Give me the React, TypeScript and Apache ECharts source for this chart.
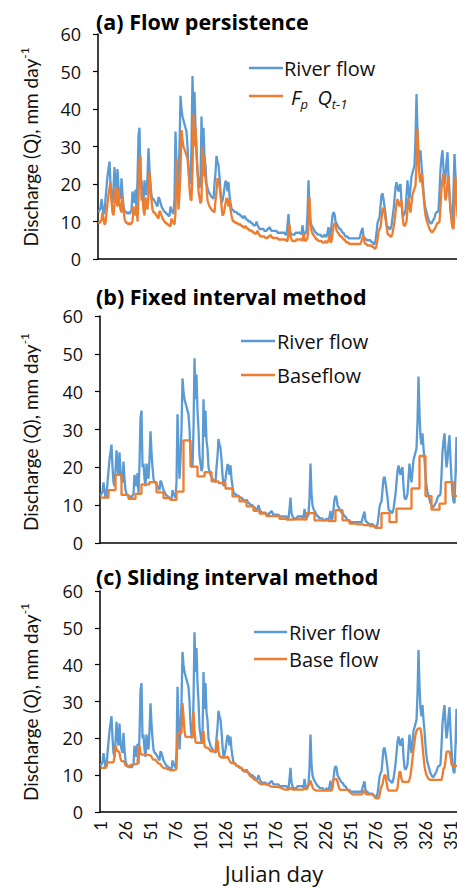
import React, { useEffect, useRef } from "react";
import * as echarts from "echarts";

// Julian day categories (1..365)
const dayLabels: string[] = Array.from({ length: 365 }, (_, i) => String(i + 1));

// Daily river flow (mm/day)
const riverFlow: number[] = [
  12.5, 13, 13.5, 16, 14, 12, 12.5, 16, 19, 22,
  24, 26, 20, 16, 15, 19, 24.5, 20, 18, 24,
  19, 17, 16, 21.5, 17, 14, 13, 12.5, 12.5, 12,
  12.5, 12, 12.5, 13, 18, 16, 15, 18.5, 13, 21,
  33, 35, 20, 21, 17, 15, 21, 18, 17, 22,
  29.5, 24, 20, 17, 16, 16, 15.5, 15, 14.5, 14,
  16.5, 16, 15, 14, 13.5, 13, 12.5, 12.5, 12, 12,
  11.5, 11.5, 14, 13, 12.5, 12, 16, 34, 25, 17,
  22, 30, 43.5, 40, 38, 37, 36, 35, 34, 30,
  24, 20.5, 20, 30, 48.8, 38, 44.5, 35, 30, 23,
  21, 19, 20, 38, 28, 35, 27, 25, 20, 19,
  18, 17.5, 17, 16.5, 16.5, 16, 20, 23, 27.5, 26,
  25, 22, 18, 15, 15.5, 17, 19, 20.8, 20.5, 18,
  20.5, 17, 15, 13.5, 13, 13, 12.5, 12.5, 12.5, 12,
  12, 12, 11.5, 11.5, 11, 11, 11.5, 11, 10.5, 10.5,
  10, 10, 10, 9.5, 9.5, 9, 9, 9, 10, 9,
  8.5, 8, 8, 8, 8, 8, 7.5, 7.5, 7.5, 8,
  8, 8.5, 8, 7.5, 7.5, 7.5, 7.5, 7.5, 7.5, 7,
  7, 7, 7, 7, 7, 7, 7, 6.5, 6.5, 9,
  12, 8, 7, 6.5, 6.5, 6.5, 6.5, 7, 7, 7,
  7, 7, 7, 6.5, 9, 7, 6.5, 7, 7.5, 12,
  21, 13, 10, 9, 8.5, 8, 7.5, 7, 7, 6.5,
  6.5, 6.5, 6.5, 6, 6, 6, 6.5, 6, 6, 7,
  8.5, 6, 6.5, 9, 11.5, 12.5, 12, 10, 9.5, 9,
  8.5, 8, 8, 7.5, 7, 7, 6.5, 6, 6, 6,
  5.5, 5.5, 5.5, 5.5, 5.5, 5.5, 5.5, 5.5, 5.5, 5.5,
  5.5, 5.5, 6.5, 7.5, 8.3, 6, 5.5, 5.5, 5, 5,
  5, 5, 5, 4.5, 4.5, 4, 4, 5, 7, 9.5,
  10.5, 11, 14, 17, 17.5, 16, 14, 12, 9, 8.5,
  8.5, 8, 8, 9, 11, 13, 16, 19, 20.5, 19,
  18, 19.5, 20, 15, 12, 11.5, 12, 13, 17, 21,
  18, 16, 19, 22, 23, 24, 25, 32, 44, 34,
  28, 26, 29, 25, 22, 18, 15, 13.5, 12.5, 11.5,
  10.5, 10, 9.5, 9.5, 10, 10.5, 11, 12, 12.5, 12.5,
  13, 18, 24, 27, 29, 24, 20, 22, 26, 28.5,
  22, 17, 13, 11, 10.5, 18, 28, 22, 15, 13,
  12.5, 12, 12, 11.5, 11,
];

// Panel (a): Fp * Q(t-1)
const persistenceFlow: number[] = [
  10, 9.6, 10, 10.4, 12.4, 10.8, 9.2, 9.6, 12.4, 14.8,
  17.2, 18.8, 20.4, 15.6, 12.4, 11.6, 14.8, 19.2, 15.6, 14,
  18.8, 14.8, 13.2, 12.4, 16.8, 13.2, 10.8, 10, 9.6, 9.6,
  9.2, 9.6, 9.2, 9.6, 10, 14, 12.4, 11.6, 14.4, 10,
  16.4, 26, 27.6, 15.6, 16.4, 13.2, 11.6, 16.4, 14, 13.2,
  17.2, 23.2, 18.8, 15.6, 13.2, 12.4, 12.4, 12, 11.6, 11.2,
  10.8, 12.8, 12.4, 11.6, 10.8, 10.4, 10, 9.6, 9.6, 9.2,
  9.2, 8.8, 8.8, 10.8, 10, 9.6, 9.2, 12.4, 26.8, 19.6,
  13.2, 17.2, 23.6, 34.4, 31.6, 30, 29.2, 28.4, 27.6, 26.8,
  23.6, 18.8, 16, 15.6, 23.6, 38.6, 30, 35.2, 27.6, 23.6,
  18, 16.4, 14.8, 15.6, 30, 22, 27.6, 21.2, 19.6, 15.6,
  14.8, 14, 13.6, 13.2, 12.8, 12.8, 12.4, 15.6, 18, 21.6,
  20.4, 19.6, 17.2, 14, 11.6, 12, 13.2, 14.8, 16.2, 16,
  14, 16, 13.2, 11.6, 10.4, 10, 10, 9.6, 9.6, 9.6,
  9.2, 9.2, 9.2, 8.8, 8.8, 8.4, 8.4, 8.8, 8.4, 8,
  8, 7.6, 7.6, 7.6, 7.2, 7.2, 6.8, 6.8, 6.8, 7.6,
  6.8, 6.4, 6, 6, 6, 6, 6, 5.6, 5.6, 5.6,
  6, 6, 6.4, 6, 5.6, 5.6, 5.6, 5.6, 5.6, 5.6,
  5.2, 5.2, 5.2, 5.2, 5.2, 5.2, 5.2, 5.2, 4.8, 4.8,
  6.8, 9.2, 6, 5.2, 4.8, 4.8, 4.8, 4.8, 5.2, 5.2,
  5.2, 5.2, 5.2, 5.2, 4.8, 6.8, 5.2, 4.8, 5.2, 5.6,
  9.2, 16.4, 10, 7.6, 6.8, 6.4, 6, 5.6, 5.2, 5.2,
  4.8, 4.8, 4.8, 4.8, 4.4, 4.4, 4.4, 4.8, 4.4, 4.4,
  5.2, 6.4, 4.4, 4.8, 6.8, 8.8, 9.6, 9.2, 7.6, 7.2,
  6.8, 6.4, 6, 6, 5.6, 5.2, 5.2, 4.8, 4.4, 4.4,
  4.4, 4, 4, 4, 4, 4, 4, 4, 4, 4,
  4, 4, 4, 4.8, 5.6, 6.2, 4.4, 4, 4, 3.6,
  3.6, 3.6, 3.6, 3.6, 3.2, 3.2, 2.8, 2.8, 3.6, 5.2,
  7.2, 8, 8.4, 10.8, 13.2, 13.6, 12.4, 10.8, 9.2, 6.8,
  6.4, 6.4, 6, 6, 6.8, 8.4, 10, 12.4, 14.8, 16,
  14.8, 14, 15.2, 15.6, 11.6, 9.2, 8.8, 9.2, 10, 13.2,
  16.4, 14, 12.4, 14.8, 17.2, 18, 18.8, 19.6, 25.2, 34.8,
  26.8, 22, 20.4, 22.8, 19.6, 17.2, 14, 11.6, 10.4, 9.6,
  8.8, 8, 7.6, 7.2, 7.2, 7.6, 8, 8.4, 9.2, 9.6,
  9.6, 10, 14, 18.8, 21.2, 22.8, 18.8, 15.6, 17.2, 20.4,
  22.4, 17.2, 13.2, 10, 8.4, 8, 14, 22, 17.2, 11.6,
  10, 9.6, 9.2, 9.2, 8.8,
];

// Panel (b): fixed-interval baseflow, one value per interval (start day of each step)
const fixedStepStartDays: number[] = [
  1, 9, 16, 22, 29, 36, 42, 50, 57, 64, 71, 77, 84, 91, 98, 105, 112, 119, 126, 133,
  140, 147, 154, 160, 167, 174, 180, 187, 194, 200, 207, 215, 222, 229, 236, 243, 250, 257, 264, 270,
  276, 282, 290, 297, 312, 320, 326, 332, 340, 346, 354, 365,
];
const fixedStepValues: number[] = [
  12, 14, 18, 12.7, 11.7, 13, 15.5, 16.1, 13.4, 11.9, 11.4, 13.6, 27.1, 20.2, 17.6, 18.7, 16.3, 15.8, 14.4, 12.3,
  11, 9.7, 8.5, 7.8, 7.1, 7.2, 6.4, 6.2, 6.3, 6.2, 7.9, 6.0, 6.0, 5.8, 8.7, 6.0, 5.1, 4.9, 4.7, 4.5,
  4.0, 7.9, 5.5, 9.1, 14.4, 23, 12.4, 8.8, 10.4, 16.1, 12.4, 12.4,
];

// Panel (c): sliding-interval baseflow
const slidingBaseflow: number[] = [
  12, 12, 12, 12, 12, 12, 12.4, 13.5, 13.5, 13.5,
  13.5, 13.5, 13.5, 13.5, 15, 18, 17, 16.5, 16.5, 16,
  14.5, 13.8, 13.8, 13.8, 13.5, 12.6, 12.6, 12.3, 12.3, 12.3,
  12.8, 12.8, 12.8, 13, 13, 13, 13, 13.2, 17.5, 18,
  16, 15.6, 15.6, 15.6, 15.6, 15.6, 15.5, 15.5, 15.5, 15.4,
  15.4, 15, 14.5, 14.2, 14.2, 14.2, 13.8, 13.5, 13.2, 13.1,
  13, 12.5, 12.2, 12, 11.9, 11.9, 11.8, 11.6, 11.6, 11.5,
  11.3, 11.3, 11.3, 11.3, 11.4, 11.5, 11.8, 21.4, 21.4, 21.4,
  21.4, 21.4, 29.6, 26, 22, 20.4, 20.4, 20.4, 20.4, 20.4,
  20.4, 20.4, 20.4, 27.3, 22, 19, 18.8, 18.8, 18.8, 18.8,
  18.8, 18.8, 18.8, 22, 18, 17.5, 17.5, 17.5, 17.2, 17,
  16.5, 16.5, 16.5, 16.5, 16.5, 16.5, 16.5, 19.6, 16.5, 15.2,
  15, 14.8, 14.8, 14.8, 14.8, 14.8, 14.8, 15.1, 14.5, 14,
  13.5, 13.3, 13.3, 13.3, 13.3, 13, 12.6, 12.4, 12.4, 12.2,
  12, 11.8, 11.3, 11.1, 11.1, 11.1, 11, 11, 10.5, 10,
  9.7, 9.5, 9.4, 9, 8.8, 8.7, 8.6, 8.4, 8, 7.8,
  7.6, 7.6, 7.6, 7.6, 7.6, 7.6, 7.5, 7.4, 7.3, 7.2,
  7, 6.9, 6.8, 6.8, 6.8, 6.8, 6.8, 6.8, 6.8, 6.7,
  6.6, 6.5, 6.4, 6.2, 6.1, 6.1, 6.1, 6.1, 6.1, 6.2,
  6.6, 6.3, 6.1, 6.1, 6.1, 6.1, 6.1, 6.1, 6.1, 6.1,
  6.1, 6.1, 6.1, 6.1, 6.4, 6.2, 6.1, 6.6, 7.2, 7.8,
  8.5, 7.6, 6.8, 6.2, 6, 5.9, 5.8, 5.8, 5.8, 5.8,
  5.8, 5.8, 5.8, 5.8, 5.8, 5.8, 5.8, 5.8, 5.8, 5.8,
  5.8, 5.8, 7, 8.9, 8.9, 8.9, 9, 8.2, 7, 6.2,
  6, 6, 6, 6, 6, 6, 6, 6, 5.8, 5.5,
  5.2, 5, 4.8, 4.8, 4.8, 4.8, 4.8, 4.8, 4.8, 4.8,
  4.8, 4.8, 5, 5.6, 5.8, 5, 4.8, 4.8, 4.8, 4.8,
  4.8, 4.8, 4.8, 4.5, 4.2, 3.8, 3.7, 3.7, 3.7, 4.5,
  6, 7, 7.5, 9, 10, 10, 8, 6.5, 5.8, 5.8,
  5.8, 5.8, 5.8, 5.8, 5.8, 5.8, 5.8, 6.5, 9, 10.9,
  10.9, 9, 8.2, 8.2, 8.2, 8.2, 8.2, 8.2, 8.2, 8.8,
  10, 12, 14.5, 17, 19, 21, 22, 22.5, 22.7, 22.7,
  22.7, 21, 18, 15, 12.5, 11, 10, 9.5, 9, 8.8,
  8.7, 8.7, 8.7, 8.7, 8.7, 8.7, 8.7, 8.7, 8.7, 8.7,
  8.7, 8.7, 10, 11.8, 12, 14, 16.4, 16.4, 16.4, 16.4,
  15, 13, 12.5, 12.5, 12.5, 12.5, 12.5, 12.5, 12.5, 12.5,
  12.5, 12.5, 12.5, 12.5, 12.5,
];

const yTicks = { min: 0, max: 60, interval: 10 };

const BLUE = "#5B9BD5";
const ORANGE = "#ED7D31";
const HFONT = "'Open Sans', Lato, sans-serif"; // horizontal texts
const VFONT = "Lato, 'Open Sans', sans-serif"; // vertical texts
const TXT = "#111";

const grids = [
  { left: 98, top: 34, width: 365, height: 225 },
  { left: 100, top: 316, width: 365, height: 227 },
  { left: 100, top: 591, width: 365, height: 221 },
];

function buildOption() {
  const xAxis = grids.map((_, i) => ({
    type: "category",
    gridIndex: i,
    data: dayLabels,
    boundaryGap: true,
    axisLine: { show: true, lineStyle: { color: "#000", width: 1.5 } },
    axisTick: { show: false },
    axisLabel:
      i === 2
        ? {
            show: true,
            interval: 24,
            rotate: 90,
            fontFamily: VFONT,
            fontSize: 16.5,
            lineHeight: 13,
            color: TXT,
            margin: 9,
          }
        : { show: false },
    splitLine: { show: false },
  }));
  const yAxis = grids.map((_, i) => ({
    type: "value",
    gridIndex: i,
    min: yTicks.min,
    max: yTicks.max,
    interval: yTicks.interval,
    axisLine: { show: true, lineStyle: { color: "#000", width: 1.5 } },
    axisTick: { show: true, length: 5, lineStyle: { color: "#000", width: 1.2 } },
    axisLabel: { fontFamily: HFONT, fontSize: 18, color: TXT, margin: 17 },
    splitLine: { show: false },
  }));

  const line = (name: string, data: any, color: string, idx: number, extra: any = {}) => ({
    type: "line",
    name,
    xAxisIndex: idx,
    yAxisIndex: idx,
    data,
    symbol: "none",
    showSymbol: false,
    lineStyle: { color, width: 2.3 },
    itemStyle: { color },
    clip: true,
    silent: true,
    ...extra,
  });

  const fixedPairs = fixedStepStartDays.map((d, k) => [String(d), fixedStepValues[k]]);

  const series = [
    line("River flow", riverFlow, BLUE, 0),
    line("Fp Qt-1", persistenceFlow, ORANGE, 0),
    line("River flow", riverFlow, BLUE, 1),
    line("Baseflow", fixedPairs, ORANGE, 1, { step: "end" }),
    line("River flow", riverFlow, BLUE, 2),
    line("Base flow", slidingBaseflow, ORANGE, 2),
  ];

  const title = (text: string, y: number) => ({
    type: "text",
    x: 96,
    y,
    style: {
      text,
      fontFamily: HFONT,
      fontWeight: "bold",
      fontSize: 21.5,
      fill: "#000",
      align: "left",
      verticalAlign: "middle",
    },
  });

  const yTitle = (y: number, italicQ: boolean, sup: boolean) => ({
    type: "text",
    x: 30,
    y,
    rotation: Math.PI / 2,
    style: {
      text:
        "{n|Discharge (}{" + (italicQ ? "i" : "n") + "|Q}{n|), mm day}" + (sup ? "{s|-1}" : ""),
      align: "center",
      verticalAlign: "middle",
      rich: {
        n: { fontFamily: VFONT, fontSize: 19, fill: TXT, lineHeight: 24 },
        i: { fontFamily: VFONT, fontSize: 19, fontStyle: "italic", fill: TXT, lineHeight: 24 },
        s: { fontFamily: VFONT, fontSize: 12, fill: TXT, verticalAlign: "top", lineHeight: 24 },
      },
    },
  });

  const legLine = (x1: number, x2: number, y: number, color: string) => ({
    type: "line",
    shape: { x1, y1: y, x2, y2: y },
    style: { stroke: color, lineWidth: 2.3 },
  });
  const legText = (text: string, x: number, y: number) => ({
    type: "text",
    x,
    y,
    style: {
      text,
      fontFamily: HFONT,
      fontSize: 20,
      fill: TXT,
      align: "left",
      verticalAlign: "middle",
    },
  });

  const graphic = [
    title("(a) Flow persistence", 21),
    title("(b) Fixed interval method", 296),
    title("(c) Sliding interval method", 576),
    yTitle(147, false, true),
    yTitle(432, true, true),
    yTitle(702, true, true),
    // legend (a)
    legLine(249, 283, 68, BLUE),
    legText("River flow", 284, 68),
    legLine(249, 283, 96, ORANGE),
    {
      type: "text",
      x: 291,
      y: 97,
      style: {
        text: "{i|F}{ss|p}{sp|  }{i|Q}{ss|t-1}",
        align: "left",
        verticalAlign: "middle",
        rich: {
          i: { fontFamily: HFONT, fontSize: 20, fontStyle: "italic", fill: TXT, lineHeight: 26 },
          sp: { fontFamily: HFONT, fontSize: 18, fill: TXT, lineHeight: 26 },
          ss: { fontFamily: HFONT, fontSize: 13, fontStyle: "italic", fill: TXT, verticalAlign: "bottom", lineHeight: 26 },
        },
      },
    },
    // legend (b)
    legLine(241, 275, 341, BLUE),
    legText("River flow", 277, 341),
    legLine(241, 275, 375, ORANGE),
    legText("Baseflow", 277, 375),
    // legend (c)
    legLine(254, 287, 632, BLUE),
    legText("River flow", 289, 632),
    legLine(254, 287, 659, ORANGE),
    legText("Base flow", 289, 659),
    // x axis title
    {
      type: "text",
      x: 274,
      y: 873,
      style: {
        text: "Julian day",
        fontFamily: HFONT,
        fontSize: 22,
        fill: TXT,
        align: "center",
        verticalAlign: "middle",
      },
    },
  ];

  return {
    animation: false,
    backgroundColor: "#fff",
    grid: grids,
    xAxis,
    yAxis,
    series,
    graphic,
  };
}

export default function App() {
  const ref = useRef<HTMLDivElement>(null);
  useEffect(() => {
    if (!ref.current) return;
    const chart = echarts.init(ref.current, null, { renderer: "svg" });
    chart.setOption(buildOption() as any);
    return () => chart.dispose();
  }, []);
  return (
    <div
      style={{
        position: "absolute",
        left: 0,
        top: 0,
        width: 457,
        height: 888,
        overflow: "hidden",
        background: "#fff",
      }}
    >
      <div ref={ref} style={{ width: 480, height: 888 }} />
    </div>
  );
}
